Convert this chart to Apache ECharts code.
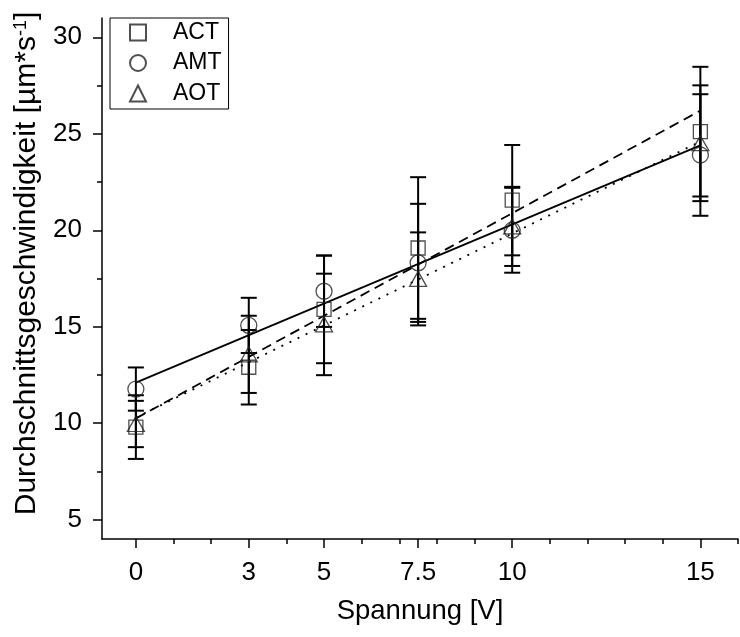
<!DOCTYPE html>
<html>
<head>
<meta charset="utf-8">
<script src="https://cdn.jsdelivr.net/npm/echarts@6/dist/echarts.min.js"></script>
<style>
  html, body { margin: 0; padding: 0; background: #fff; }
  #chart { width: 740px; height: 637px; }
</style>
</head>
<body>
<div id="chart"></div>
<script>
// Spannung [V]
const voltages = [0, 3, 5, 7.5, 10, 15];
// Mittelwerte und Fehler je Probe
const actMean = [9.8, 12.9, 15.9, 19.08, 21.56, 25.11];
const actErr = [1.65, 1.93, 2.79, 3.67, 2.86, 3.36];
const amtMean = [11.77, 15.07, 16.84, 18.31, 20.0, 23.9];
const amtErr = [1.12, 1.43, 1.85, 3.06, 2.2, 3.15];
const aotMean = [9.96, 13.57, 15.12, 17.48, 20.2, 24.51];
const aotErr = [1.2, 2.0, 2.63, 2.41, 2.05, 3.0];
const fitX = [0, 15];
const actFit = [10.25, 26.2];
const amtFit = [12.1, 24.4];
const aotFit = [10.3, 24.6];
// Achsen
const xTicks = [0, 3, 5, 7.5, 10, 15];
const xMinorTicks = [1, 2, 4, 6, 7, 8, 9, 11, 12, 13, 14, 16];
const yTicks = [5, 10, 15, 20, 25, 30];
const yMinorTicks = [7.5, 12.5, 17.5, 22.5, 27.5];

const FONT = 'Liberation Sans, Arial, sans-serif';
const chart = echarts.init(document.getElementById('chart'));

function errorBarItem(params, api) {
  const x = api.value(0);
  const y = api.value(1);
  const e = api.value(2);
  const hi = api.coord([x, y + e]);
  const lo = api.coord([x, y - e]);
  const w = 8;
  const style = { stroke: '#000', lineWidth: 2 };
  return {
    type: 'group',
    children: [
      { type: 'line', shape: { x1: hi[0], y1: hi[1], x2: lo[0], y2: lo[1] }, style: style },
      { type: 'line', shape: { x1: hi[0] - w, y1: hi[1], x2: hi[0] + w, y2: hi[1] }, style: style },
      { type: 'line', shape: { x1: lo[0] - w, y1: lo[1], x2: lo[0] + w, y2: lo[1] }, style: style }
    ]
  };
}

const zip = (xs, ys) => xs.map((x, i) => [x, ys[i]]);
const zip3 = (xs, ys, es) => xs.map((x, i) => [x, ys[i], es[i]]);

const markerStyle = { color: 'transparent', borderColor: '#222', borderWidth: 1.3 };

function fitLine(name, ys, type) {
  return {
    name: name,
    type: 'line',
    data: zip(fitX, ys),
    showSymbol: false,
    silent: true,
    z: 1,
    lineStyle: { color: '#000', width: 1.8, type: type }
  };
}

function errSeries(name, means, errs) {
  return {
    name: name,
    type: 'custom',
    renderItem: errorBarItem,
    encode: { x: 0, y: 1 },
    data: zip3(voltages, means, errs),
    silent: true,
    z: 3
  };
}

function scatter(name, means, symbol, size) {
  return {
    name: name,
    type: 'scatter',
    data: zip(voltages, means),
    symbol: symbol,
    symbolSize: size,
    symbolKeepAspect: true,
    itemStyle: markerStyle,
    z: 4
  };
}

const axisLineStyle = { color: '#000', width: 1.5 };

const option = {
  animation: false,
  backgroundColor: '#fff',
  grid: [
    { left: 102, right: 2, top: 18, bottom: 98, outerBoundsMode: 'none' },
    { left: 102, right: 2, top: 18, bottom: 98, outerBoundsMode: 'none' }
  ],
  legend: {
    data: ['ACT', 'AMT', 'AOT'],
    orient: 'vertical',
    left: 110,
    top: 18,
    padding: [3, 7, 4, 19],
    itemWidth: 16,
    itemHeight: 16,
    itemGap: 7.5,
    borderColor: '#000',
    borderWidth: 1,
    backgroundColor: '#fff',
    selectedMode: false,
    textStyle: { fontSize: 23, color: '#000', fontFamily: FONT, lineHeight: 22, padding: [0, 0, 0, 22] }
  },
  xAxis: [
    {
      type: 'value',
      min: -0.9,
      max: 16,
      name: 'Spannung [V]',
      nameLocation: 'middle',
      nameGap: 58,
      nameTextStyle: { fontSize: 27.5, color: '#000', fontFamily: FONT },
      axisLine: { show: true, onZero: false, lineStyle: axisLineStyle },
      axisTick: { show: true, customValues: xTicks, length: 9, lineStyle: axisLineStyle },
      axisLabel: { customValues: xTicks, fontSize: 26, color: '#000', fontFamily: FONT, margin: 21 },
      splitLine: { show: false }
    },
    {
      type: 'value',
      gridIndex: 1,
      min: -0.9,
      max: 16,
      axisLine: { show: false, onZero: false },
      axisTick: { show: true, customValues: xMinorTicks, length: 5, lineStyle: axisLineStyle },
      axisLabel: { show: false },
      splitLine: { show: false }
    }
  ],
  yAxis: [
    {
      type: 'value',
      min: 4,
      max: 31,
      name: 'Durchschnittsgeschwindigkeit [µm*s{sup|-1}]',
      nameLocation: 'middle',
      nameGap: 55,
      nameTextStyle: {
        fontSize: 30, color: '#000', fontFamily: FONT,
        padding: [0, 0, 0, 30],
        rich: { sup: { fontSize: 18, color: '#000', fontFamily: FONT, verticalAlign: 'top', padding: [0, 0, 12, 0] } }
      },
      axisLine: { show: true, onZero: false, lineStyle: axisLineStyle },
      axisTick: { show: true, customValues: yTicks, length: 9, lineStyle: axisLineStyle },
      axisLabel: { customValues: yTicks, fontSize: 26, color: '#000', fontFamily: FONT, margin: 20 },
      splitLine: { show: false }
    },
    {
      type: 'value',
      gridIndex: 1,
      min: 4,
      max: 31,
      axisLine: { show: false, onZero: false },
      axisTick: { show: true, customValues: yMinorTicks, length: 5, lineStyle: axisLineStyle },
      axisLabel: { show: false },
      splitLine: { show: false }
    }
  ],
  series: [
    fitLine('ACT fit', actFit, [10, 6]),
    fitLine('AMT fit', amtFit, 'solid'),
    fitLine('AOT fit', aotFit, [2, 7]),
    errSeries('ACT err', actMean, actErr),
    errSeries('AMT err', amtMean, amtErr),
    errSeries('AOT err', aotMean, aotErr),
    scatter('ACT', actMean, 'rect', 14),
    scatter('AMT', amtMean, 'circle', 16),
    scatter('AOT', aotMean, 'triangle', [17, 15])
  ]
};

chart.setOption(option);
</script>
</body>
</html>
